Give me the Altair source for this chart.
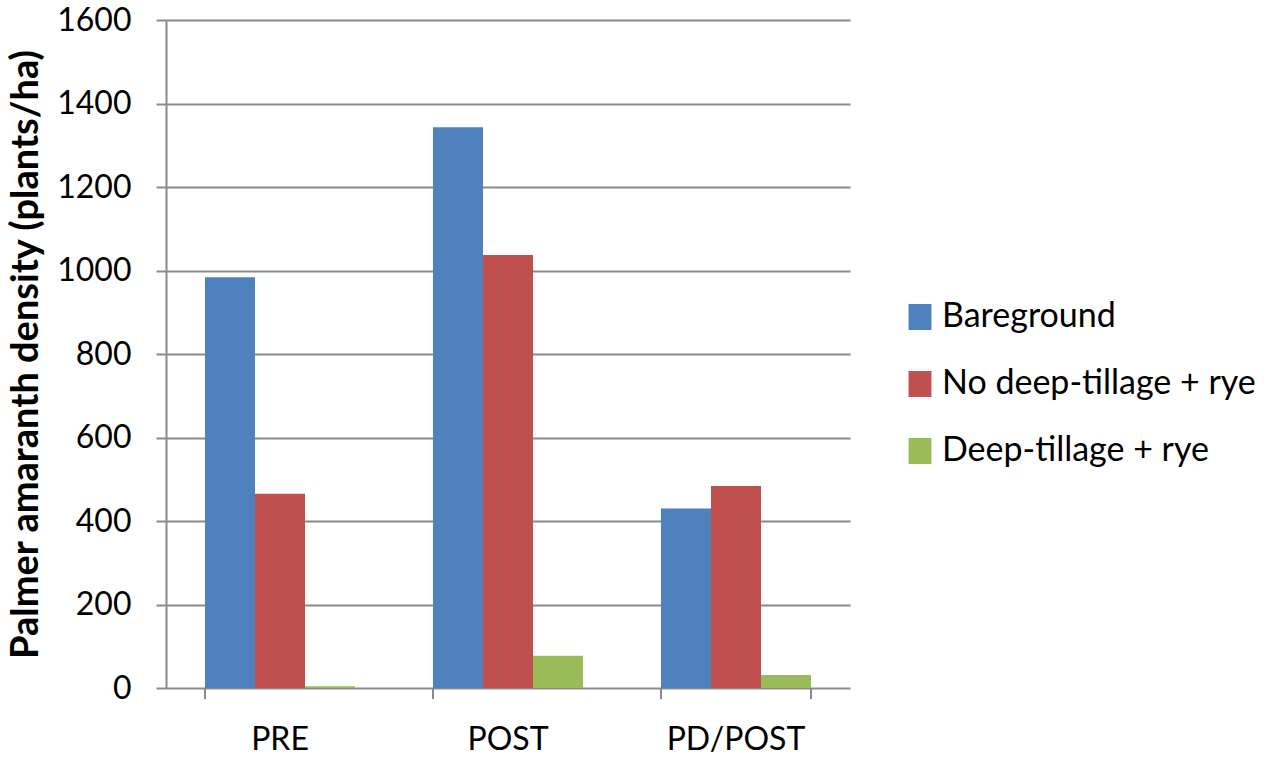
import altair as alt
import pandas as pd

# Palmer amaranth density by herbicide timing and cover system
timings = ["PRE", "POST", "PD/POST"]
systems = ["Bareground", "No deep-tillage + rye", "Deep-tillage + rye"]
bareground = [984, 1343, 430]
no_deep_rye = [465, 1037, 484]
deep_rye = [4, 77, 31]
y_ticks = [0, 200, 400, 600, 800, 1000, 1200, 1400, 1600]
palette = ["#4F81BD", "#C0504D", "#9BBB59"]

rows = []
for series, vals in zip(systems, [bareground, no_deep_rye, deep_rye]):
    for t, v in zip(timings, vals):
        rows.append({"timing": t, "system": series, "density": v})
df = pd.DataFrame(rows)
edges = pd.DataFrame({"timing": timings})

FONT = "Lato"
GRID = "#8a8a8a"

x_scale = alt.Scale(domain=timings, paddingInner=0.342, paddingOuter=0.171)

bars = alt.Chart(df).mark_bar().encode(
    x=alt.X("timing:N", scale=x_scale, sort=timings,
            axis=alt.Axis(title=None, labelAngle=0, labelFont=FONT, labelFontSize=32,
                          labelColor="black", ticks=False, tickSize=0, domain=False,
                          labelPadding=36)),
    xOffset=alt.XOffset("system:N", sort=systems,
                        scale=alt.Scale(domain=systems, paddingInner=0, paddingOuter=0)),
    y=alt.Y("density:Q",
            scale=alt.Scale(domain=[0, 1600], nice=False),
            axis=alt.Axis(values=y_ticks, format="d",
                          title="Palmer amaranth density (plants/ha)",
                          titleFont=FONT, titleFontSize=38, titleFontWeight="bold",
                          titleColor="black", titleAngle=270, titleX=-140, titleY=334,
                          titleAlign="center", titleBaseline="middle",
                          labelFont=FONT, labelFontSize=32, labelColor="black",
                          labelPadding=25, tickSize=10, tickColor=GRID, tickWidth=2,
                          domainColor=GRID, domainWidth=2,
                          grid=True, gridColor=GRID, gridWidth=2)),
    color=alt.Color("system:N", sort=systems,
                    scale=alt.Scale(domain=systems, range=palette),
                    legend=alt.Legend(title=None, orient="none", legendX=737, legendY=280,
                                      symbolType="M-0.88,-1H0.88V1H-0.88Z",
                                      symbolSize=676, symbolStrokeWidth=0,
                                      labelFont=FONT, labelFontSize=34, labelColor="black",
                                      labelLimit=0, labelOffset=5, rowPadding=33,
                                      padding=0)),
)

# category separator ticks below the baseline
left_ticks = alt.Chart(edges).mark_rule(color=GRID, strokeWidth=2).encode(
    x=alt.X("timing:N", scale=x_scale, sort=timings, bandPosition=0),
    y=alt.value(668), y2=alt.value(679),
)
right_tick = alt.Chart(edges[edges.timing == timings[-1]]).mark_rule(
    color=GRID, strokeWidth=2).encode(
    x=alt.X("timing:N", scale=x_scale, sort=timings, bandPosition=1),
    y=alt.value(668), y2=alt.value(679),
)

chart = alt.layer(bars, left_ticks, right_tick).properties(
    width=684, height=668, autosize="none", background="white",
    padding={"left": 166, "top": 20, "right": 424, "bottom": 71},
).configure_view(stroke=None)

chart.save("out.html", embed_options={"renderer": "svg", "actions": False})
